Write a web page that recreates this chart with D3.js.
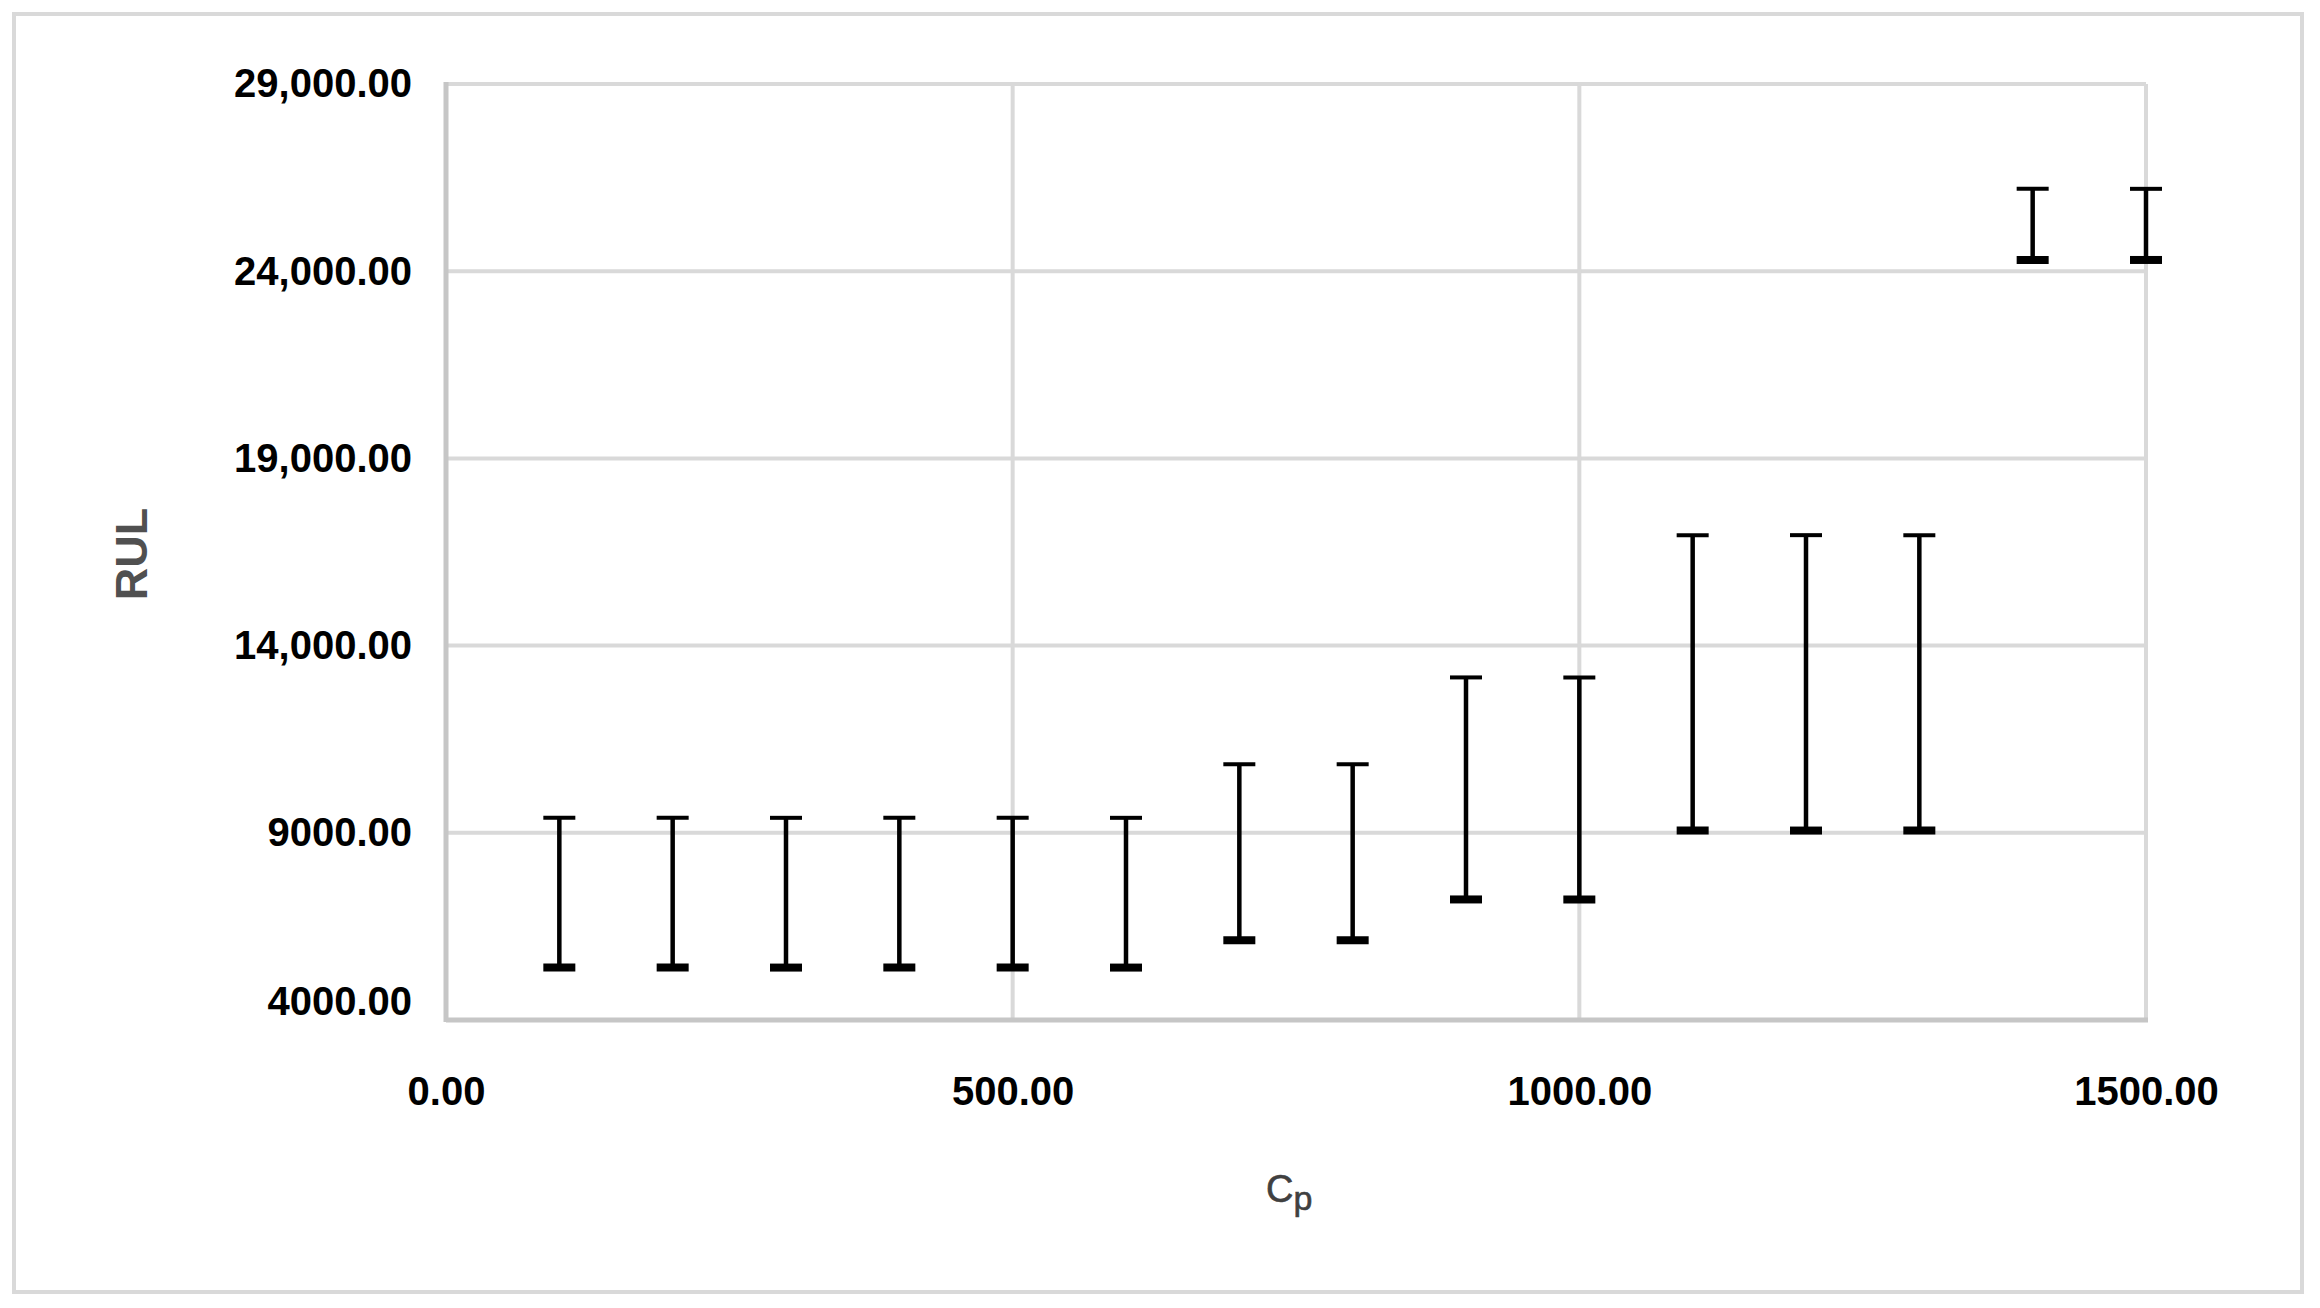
<!DOCTYPE html>
<html>
<head>
<meta charset="utf-8">
<script src="https://cdn.jsdelivr.net/npm/d3@7"></script>
<style>
body { margin: 0; background: #fff; }
text { font-family: "Liberation Sans", Arial, sans-serif; }
</style>
</head>
<body>
<svg id="chart" width="2320" height="1308"></svg>
<script>
// C_p values and RUL range (low / high)
var cp = [100, 200, 300, 400, 500, 600, 700, 800, 900, 1000, 1100, 1200, 1300, 1400, 1500]
var rulLow = [5400, 5400, 5400, 5400, 5400, 5400, 6130, 6130, 7220, 7220, 9060, 9060, 9060, 24300, 24300]
var rulHigh = [9400, 9400, 9400, 9400, 9400, 9400, 10830, 10830, 13150, 13150, 16950, 16950, 16950, 26200, 26200]

var yTicks = [4000, 9000, 14000, 19000, 24000, 29000]
var yLabels = ['4000.00', '9000.00', '14,000.00', '19,000.00', '24,000.00', '29,000.00']
var xTicks = [0, 500, 1000, 1500]
var xLabels = ['0.00', '500.00', '1000.00', '1500.00']

// plot box (window.top is read-only, so no bare "top")
var pLeft = 446, pRight = 2146, pTop = 84, pBottom = 1020

var svg = d3.select('#chart')

// outer frame
svg.append('rect')
.attr('x', 14).attr('y', 14)
.attr('width', 2288).attr('height', 1278)
.attr('fill', 'none')
.attr('stroke', '#d9d9d9')
.attr('stroke-width', 4)

var x = d3.scaleLinear().domain([0, 1500]).range([pLeft, pRight])
var y = d3.scaleLinear().domain([4000, 29000]).range([pBottom, pTop])

// grid
svg.append('g')
.selectAll('line')
.data(yTicks.slice(1))
.enter().append('line')
.attr('x1', pLeft).attr('x2', pRight)
.attr('y1', function (d) { return y(d) })
.attr('y2', function (d) { return y(d) })
.attr('stroke', '#d9d9d9')
.attr('stroke-width', 4)

svg.append('g')
.selectAll('line')
.data(xTicks.slice(1))
.enter().append('line')
.attr('x1', function (d) { return x(d) })
.attr('x2', function (d) { return x(d) })
.attr('y1', pTop).attr('y2', pBottom)
.attr('stroke', '#d9d9d9')
.attr('stroke-width', 4)

// axis lines
svg.append('line')
.attr('x1', pLeft).attr('x2', pLeft).attr('y1', pTop - 2).attr('y2', pBottom + 2)
.attr('stroke', '#c6c6c6').attr('stroke-width', 5)
svg.append('line')
.attr('x1', pLeft).attr('x2', pRight + 2).attr('y1', pBottom).attr('y2', pBottom)
.attr('stroke', '#c6c6c6').attr('stroke-width', 5)

// tick labels
var yAxis = svg.append('g')
.attr('transform', 'translate(' + pLeft + ',0)')
.call(d3.axisLeft(y).tickValues(yTicks)
  .tickFormat(function (d, i) { return yLabels[i] })
  .tickSize(0).tickPadding(34))
yAxis.select('.domain').remove()
yAxis.selectAll('text')
.attr('font-size', 40).attr('font-weight', 'bold')
.attr('fill', '#000')
.attr('font-family', '"Liberation Sans", Arial, sans-serif')
// lowest label sits a bit above its line in the original
yAxis.selectAll('text').filter(function (d) { return d === 4000 })
.attr('dy', '-0.15em')

var xAxis = svg.append('g')
.attr('transform', 'translate(0,' + pBottom + ')')
.call(d3.axisBottom(x).tickValues(xTicks)
  .tickFormat(function (d, i) { return xLabels[i] })
  .tickSize(0))
xAxis.select('.domain').remove()
xAxis.selectAll('text')
.attr('y', 85).attr('dy', 0)
.attr('font-size', 40).attr('font-weight', 'bold')
.attr('fill', '#000')
.attr('font-family', '"Liberation Sans", Arial, sans-serif')

// error bars
var bars = svg.append('g')
.selectAll('g')
.data(cp)
.enter().append('g')

bars.append('line')
.attr('x1', function (d) { return x(d) })
.attr('x2', function (d) { return x(d) })
.attr('y1', function (d, i) { return y(rulLow[i]) })
.attr('y2', function (d, i) { return y(rulHigh[i]) })
.attr('stroke', '#000')
.attr('stroke-width', 4.5)

bars.append('line')
.attr('x1', function (d) { return x(d) - 16 })
.attr('x2', function (d) { return x(d) + 16 })
.attr('y1', function (d, i) { return y(rulHigh[i]) })
.attr('y2', function (d, i) { return y(rulHigh[i]) })
.attr('stroke', '#000')
.attr('stroke-width', 4)

bars.append('line')
.attr('x1', function (d) { return x(d) - 16 })
.attr('x2', function (d) { return x(d) + 16 })
.attr('y1', function (d, i) { return y(rulLow[i]) })
.attr('y2', function (d, i) { return y(rulLow[i]) })
.attr('stroke', '#000')
.attr('stroke-width', 8)

// axis titles
svg.append('text')
.attr('transform', 'translate(147,554) rotate(-90)')
.attr('text-anchor', 'middle')
.attr('font-size', 45).attr('font-weight', 'bold')
.attr('fill', '#505050')
.text('RUL')

var cpTitle = svg.append('text')
.attr('x', 1266).attr('y', 1202)
.attr('font-size', 38)
.attr('fill', '#404040')
.attr('stroke', '#404040').attr('stroke-width', 0.6)
cpTitle.append('tspan').text('C')
cpTitle.append('tspan').attr('dy', 8).attr('font-size', 34).text('p')
</script>
</body>
</html>
